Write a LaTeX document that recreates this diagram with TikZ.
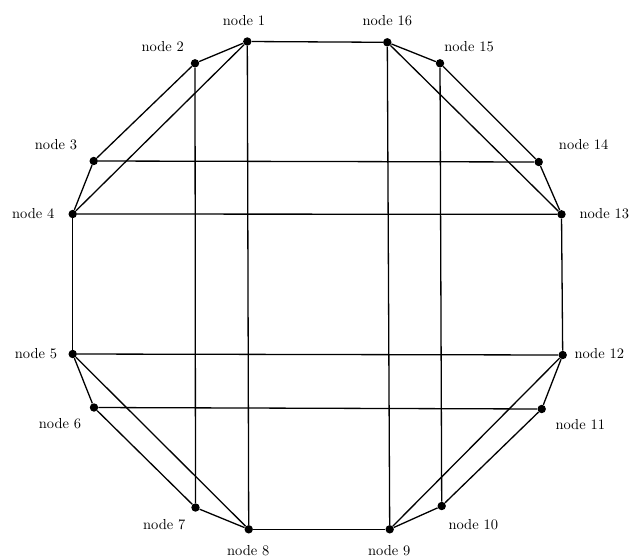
\documentclass[tikz,border=0pt]{standalone}
\usetikzlibrary{positioning}
\begin{document}
\begin{tikzpicture}[x=0.69pt, y=-0.69pt,
    vertex/.style={circle, fill=black, inner sep=0pt, minimum size=5.8pt},
    lbl/.style={font=\normalsize, inner sep=1pt},
    edge/.style={line width=0.9pt},
]
\useasboundingbox (0,0) rectangle (631,559);

% Vertices (pixel positions of the reference)
\node[vertex] (n1)  at (247.3,41.5) {};
\node[vertex] (n2)  at (195,63.3) {};
\node[vertex] (n3)  at (93.7,161) {};
\node[vertex] (n4)  at (72.7,214) {};
\node[vertex] (n5)  at (72.7,354) {};
\node[vertex] (n6)  at (94,407.5) {};
\node[vertex] (n7)  at (195.5,507.5) {};
\node[vertex] (n8)  at (248.7,529.3) {};
\node[vertex] (n9)  at (389.7,529.3) {};
\node[vertex] (n10) at (441.7,506) {};
\node[vertex] (n11) at (541.7,409) {};
\node[vertex] (n12) at (562.7,355) {};
\node[vertex] (n13) at (561.5,214.3) {};
\node[vertex] (n14) at (538.7,162) {};
\node[vertex] (n15) at (440,63.3) {};
\node[vertex] (n16) at (387.3,42.3) {};

% Labels
\node[lbl] (t1)  at (244,21) {node 1};
\node[lbl] (t2)  at (162.7,46.7) {node 2};
\node[lbl] (t3)  at (56,144.3) {node 3};
\node[lbl] (t4)  at (33.3,214) {node 4};
\node[lbl] (t5)  at (36,354) {node 5};
\node[lbl] (t6)  at (60,424) {node 6};
\node[lbl] (t7)  at (164.3,524.3) {node 7};
\node[lbl] (t8)  at (248.3,550.7) {node 8};
\node[lbl] (t9)  at (389.3,550.7) {node 9};
\node[lbl] (t10) at (473.3,524.3) {node 10};
\node[lbl] (t11) at (580.3,425) {node 11};
\node[lbl] (t12) at (599.3,354) {node 12};
\node[lbl] (t13) at (604.3,213.3) {node 13};
\node[lbl] (t14) at (583.7,144.3) {node 14};
\node[lbl] (t15) at (469,46.7) {node 15};
\node[lbl] (t16) at (387.3,20.7) {node 16};

% Outer ring
\foreach \a/\b in {1/2,2/3,3/4,4/5,5/6,6/7,7/8,8/9,9/10,10/11,11/12,12/13,13/14,14/15,15/16,16/1}
    \draw[edge] (n\a) -- (n\b);

% Straight chords
\foreach \a/\b in {1/8,2/7,16/9,15/10,3/14,4/13,5/12,6/11}
    \draw[edge] (n\a) -- (n\b);

% Corner diagonals
\foreach \a/\b in {1/4,16/13,5/8,9/12}
    \draw[edge] (n\a) -- (n\b);
\end{tikzpicture}
\end{document}
